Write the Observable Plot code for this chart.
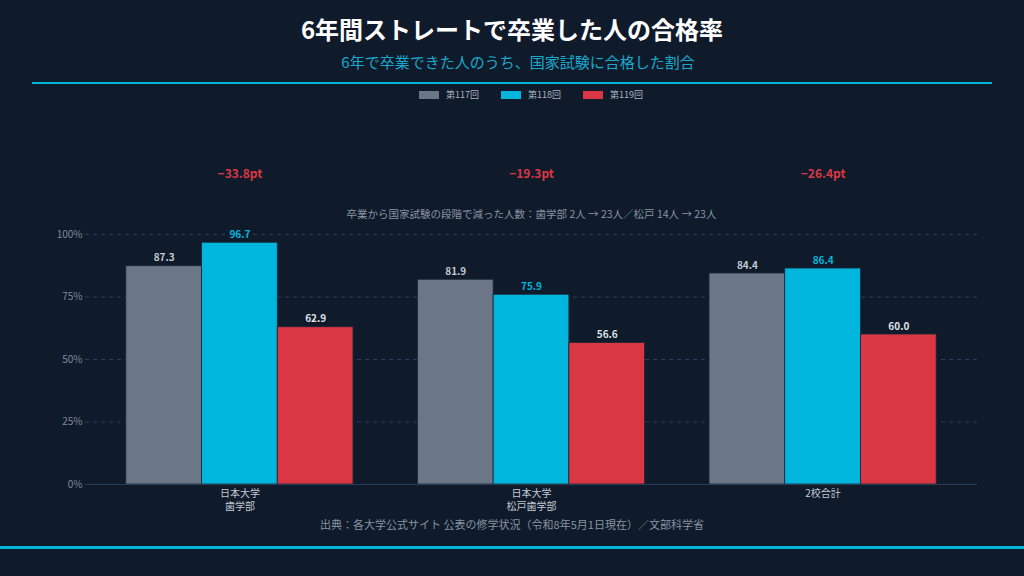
<!DOCTYPE html>
<html><head><meta charset="utf-8">
<script src="https://cdn.jsdelivr.net/npm/d3@7"></script>
<script src="https://cdn.jsdelivr.net/npm/@observablehq/plot@0.6"></script>
<style>
html,body{margin:0;padding:0;background:#0f1b2b;width:1024px;height:576px;overflow:hidden;font-family:"Noto Sans CJK JP","Noto Sans",sans-serif;}
#root{position:relative;width:1024px;height:576px;}
.title{position:absolute;top:12px;left:0;width:1024px;text-align:center;color:#ffffff;font-size:24px;font-weight:bold;line-height:34px;}
.subtitle{position:absolute;top:51px;left:6px;width:1024px;text-align:center;color:#1aa9cc;font-size:15px;line-height:22px;}
.rule-top{position:absolute;top:82px;left:32px;width:960px;height:2px;background:#00b4d8;}
.legend{position:absolute;top:87px;left:19px;width:1024px;display:flex;justify-content:center;gap:22px;font-size:9px;color:#aab2be;line-height:16px;}
.legend .item{display:flex;align-items:center;gap:7px;}
.legend .sw{width:20px;height:8px;display:inline-block;}
#chart{position:absolute;top:110px;left:0;}
.caption{position:absolute;top:515px;left:0;width:1024px;text-align:center;color:#8893a2;font-size:11px;line-height:18px;}
.rule-bottom{position:absolute;top:546px;left:0;width:1024px;height:3px;background:#00b4d8;}
</style>
</head><body>
<div id="root">
  <div class="title">6年間ストレートで卒業した人の合格率</div>
  <div class="subtitle">6年で卒業できた人のうち、国家試験に合格した割合</div>
  <div class="rule-top"></div>
  <div class="legend" id="legend"></div>
  <div id="chart"></div>
  <div class="caption">出典：各大学公式サイト 公表の修学状況（令和8年5月1日現在）／文部科学省</div>
  <div class="rule-bottom"></div>
</div>
<script>
const groups = ["日本大学\n歯学部", "日本大学\n松戸歯学部", "2校合計"];
const seriesNames = ["第117回", "第118回", "第119回"];
const colors = ["#6b7686", "#00b6dc", "#da3744"];
const labelColors = ["#c3c9d2", "#00b6dc", "#dfe3e8"];
const values117 = [87.3, 81.9, 84.4];
const values118 = [96.7, 75.9, 86.4];
const values119 = [62.9, 56.6, 60.0];
const yTicks = [0, 25, 50, 75, 100];
const noteText = "卒業から国家試験の段階で減った人数：歯学部 2人 → 23人／松戸 14人 → 23人";

const seriesValues = [values117, values118, values119];
const rows = [];
seriesValues.forEach((vals, j) => vals.forEach((v, i) => rows.push({group: groups[i], series: seriesNames[j], j, value: v})));
const deltas = groups.map((g, i) => ({group: g, delta: values119[i] - values118[i]}));

// legend
const lg = document.getElementById("legend");
seriesNames.forEach((s, j) => {
  const it = document.createElement("div"); it.className = "item";
  const sw = document.createElement("span"); sw.className = "sw"; sw.style.background = colors[j];
  const t = document.createElement("span"); t.textContent = s;
  it.appendChild(sw); it.appendChild(t); lg.appendChild(it);
});

const W = 1024, H = 415, mL = 85, mR = 47, mT = 124, mB = 41;
const padIn = 0.221, padOut = 0.14;
const bw = d3.scaleBand().domain(groups).range([mL, W - mR]).paddingInner(padIn).paddingOuter(padOut).bandwidth();
const w = bw / 3;

const marks = [
  Plot.ruleY(yTicks.filter(d => d > 0), {stroke: "#2b3c55", strokeDasharray: "4,4", strokeWidth: 1}),
];
seriesNames.forEach((s, j) => {
  const data = rows.filter(r => r.j === j);
  marks.push(Plot.barY(data, {x: "group", y: "value", fill: colors[j], insetLeft: j * w, insetRight: (2 - j) * w, stroke: "#1b2636", strokeWidth: 0.8}));
  marks.push(Plot.text(data, {x: "group", y: "value", text: d => d.value.toFixed(1), dx: (j - 1) * w, dy: -5, lineAnchor: "bottom", fill: labelColors[j], fontSize: 10, fontWeight: "bold"}));
});
marks.push(Plot.ruleY([0], {stroke: "#2b3c58", strokeWidth: 1}));
marks.push(Plot.text(deltas, {x: "group", y: () => 124, text: d => "\u2212" + Math.abs(d.delta).toFixed(1) + "pt", fill: "#da3744", fontSize: 12, fontWeight: "bold"}));
marks.push(Plot.text([noteText], {x: () => groups[1], y: () => 108, text: d => d, fill: "#8893a2", fontSize: 10.5}));

const chart = Plot.plot({
  width: W, height: H,
  marginLeft: mL, marginRight: mR, marginTop: mT, marginBottom: mB,
  style: {background: "transparent", color: "#8893a2", fontFamily: "'Noto Sans CJK JP','Noto Sans',sans-serif", fontSize: "10px", overflow: "visible"},
  x: {domain: groups, paddingInner: padIn, paddingOuter: padOut, round: false, label: null, tickSize: 0, tickPadding: 4},
  y: {domain: [0, 100], ticks: yTicks, tickFormat: d => d + "%", label: null, tickSize: 0, tickPadding: 3},
  marks: [
    ...marks,
    Plot.axisX({tickSize: 0, tickPadding: 3, fill: "#c3c9d2", fontSize: 10, lineHeight: 1.3}),
    Plot.axisY({ticks: yTicks, tickFormat: d => d + "%", tickSize: 0, tickPadding: 3, fill: "#7f8a9a", fontSize: 10, label: null})
  ]
});
document.getElementById("chart").appendChild(chart);
</script>
</body></html>
